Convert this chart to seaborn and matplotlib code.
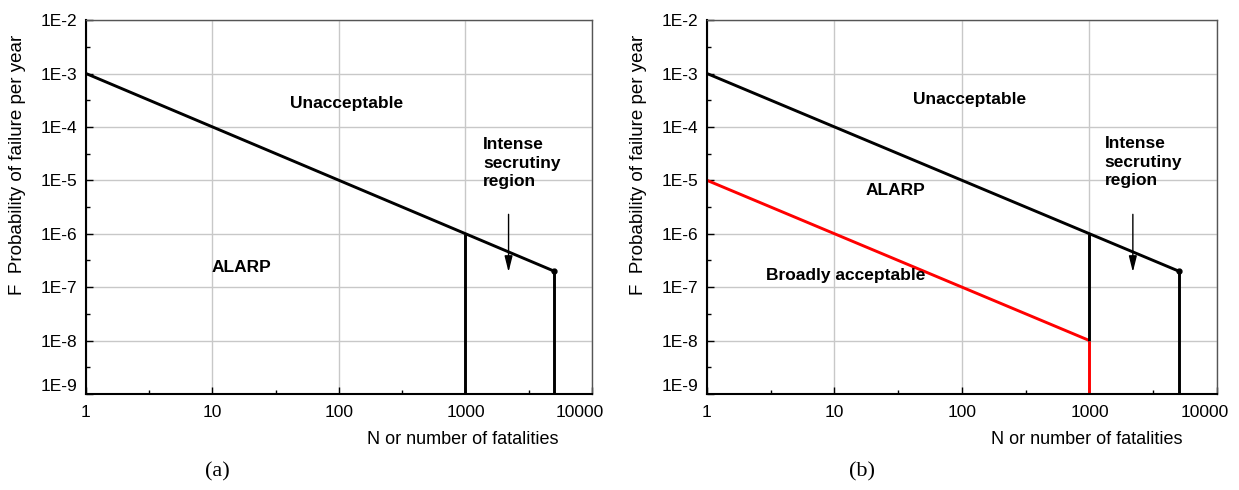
import numpy as np
import pandas as pd
import matplotlib
matplotlib.use("Agg")
import matplotlib.pyplot as plt
import matplotlib.transforms as mtransforms
import seaborn as sns
from matplotlib.ticker import FixedLocator, FixedFormatter

# criterion lines (N, F)
upper_N = [1, 1000, 5000]
upper_F = [1e-3, 1e-6, 2e-7]
lower_N = [1, 1000]
lower_F = [1e-5, 1e-8]
cut_N = [1000, 5000]
F_floor = 1e-9

x_ticks = [1, 10, 100, 1000, 10000]
x_labels = ["1", "10", "100", "1000", "10000"]
y_ticks = [1e-9, 1e-8, 1e-7, 1e-6, 1e-5, 1e-4, 1e-3, 1e-2]
y_labels = ["1E-9", "1E-8", "1E-7", "1E-6", "1E-5", "1E-4", "1E-3", "1E-2"]

sns.set_theme(style="whitegrid")
plt.rcParams["font.family"] = ["Liberation Sans", "DejaVu Sans"]
plt.rcParams["text.color"] = "black"
plt.rcParams["axes.labelcolor"] = "black"

fig = plt.figure(figsize=(12.39, 4.9), dpi=100)
ax_a = fig.add_axes([0.0694, 0.196, 0.4084, 0.763])
ax_b = fig.add_axes([0.5706, 0.196, 0.4116, 0.763])


def seg(ax, xs, ys, color="black", lw=2.1):
    d = pd.DataFrame({"N": xs, "F": ys})
    sns.lineplot(data=d, x="N", y="F", ax=ax, color=color, lw=lw,
                 sort=False, estimator=None, solid_capstyle="butt")


def style_axes(ax):
    ax.set_xscale("log")
    ax.set_yscale("log")
    ax.set_xlim(1, 10000)
    ax.set_ylim(1e-9, 1e-2)
    ax.xaxis.set_major_locator(FixedLocator(x_ticks))
    ax.xaxis.set_major_formatter(FixedFormatter(x_labels))
    ax.yaxis.set_major_locator(FixedLocator(y_ticks))
    ax.yaxis.set_major_formatter(FixedFormatter(y_labels))
    ax.xaxis.set_minor_locator(FixedLocator([10 ** (k + 0.5) for k in range(4)]))
    ax.yaxis.set_minor_locator(FixedLocator([10 ** (k + 0.5) for k in range(-9, -2)]))
    ax.grid(True, which="major", color="#c8c8c8", lw=1.0)
    ax.grid(False, which="minor")
    ax.set_facecolor("white")
    ax.tick_params(which="both", direction="in", colors="black", labelsize=12.5,
                   bottom=True, left=True, top=False, right=False)
    ax.tick_params(which="major", length=5, width=1)
    ax.tick_params(which="minor", length=3, width=1)
    ax.tick_params(axis="x", pad=8)
    ax.tick_params(axis="y", pad=6)
    for s in ["left", "bottom"]:
        ax.spines[s].set_color("black")
        ax.spines[s].set_linewidth(1.5)
    for s in ["top", "right"]:
        ax.spines[s].set_color("#555555")
        ax.spines[s].set_linewidth(1.0)
    ax.get_yticklabels()[0].set_verticalalignment("bottom")
    # last x label sits a little inside the frame
    last = ax.get_xticklabels()[-1]
    last.set_transform(last.get_transform() +
                       mtransforms.ScaledTranslation(-12 / 100, 0, fig.dpi_scale_trans))
    ax.set_xlabel("N or number of fatalities", fontsize=13, color="black")
    ax.xaxis.set_label_coords(0.745, -0.10)
    ax.set_ylabel("F  Probability of failure per year", fontsize=13.5, color="black")
    ax.yaxis.set_label_coords(-0.118, 0.612)


for ax in (ax_a, ax_b):
    seg(ax, upper_N, upper_F)
    seg(ax, [cut_N[1], cut_N[1]], [upper_F[2], F_floor])
    ax.plot([upper_N[2]], [upper_F[2]], "o", color="black", ms=3.5)
    ax.annotate("", xy=(2190, 1.7e-7), xytext=(2190, 2.6e-6),
                arrowprops=dict(arrowstyle="-|>,head_length=0.8,head_width=0.2",
                                color="black", lw=1))
    style_axes(ax)

# panel (a)
seg(ax_a, [cut_N[0], cut_N[0]], [upper_F[1], F_floor])
ax_a.text(115, 2.8e-4, "Unacceptable", fontsize=12.5, fontweight="bold",
          ha="center", va="center")
ax_a.text(1380, 2.1e-5, "Intense\nsecrutiny\nregion", fontsize=12.5,
          fontweight="bold", ha="left", va="center", linespacing=1.3)
ax_a.text(17, 2.3e-7, "ALARP", fontsize=12.5, fontweight="bold",
          ha="center", va="center")

# panel (b)
seg(ax_b, lower_N, lower_F, color="#ff0000")
seg(ax_b, [cut_N[0], cut_N[0]], [upper_F[1], lower_F[1]])
seg(ax_b, [cut_N[0], cut_N[0]], [lower_F[1], F_floor], color="#ff0000")
ax_b.text(115, 3.2e-4, "Unacceptable", fontsize=12.5, fontweight="bold",
          ha="center", va="center")
ax_b.text(1310, 2.2e-5, "Intense\nsecrutiny\nregion", fontsize=12.5,
          fontweight="bold", ha="left", va="center", linespacing=1.3)
ax_b.text(30, 6.4e-6, "ALARP", fontsize=12.5, fontweight="bold",
          ha="center", va="center")
ax_b.text(12.3, 1.66e-7, "Broadly acceptable", fontsize=12.5, fontweight="bold",
          ha="center", va="center")

fig.text(217 / 1239, 1 - 472 / 490, "(a)", fontsize=16, ha="center", va="center",
         family=["Liberation Serif", "DejaVu Serif"])
fig.text(862 / 1239, 1 - 472 / 490, "(b)", fontsize=16, ha="center", va="center",
         family=["Liberation Serif", "DejaVu Serif"])

fig.savefig("out.png", dpi=100)
